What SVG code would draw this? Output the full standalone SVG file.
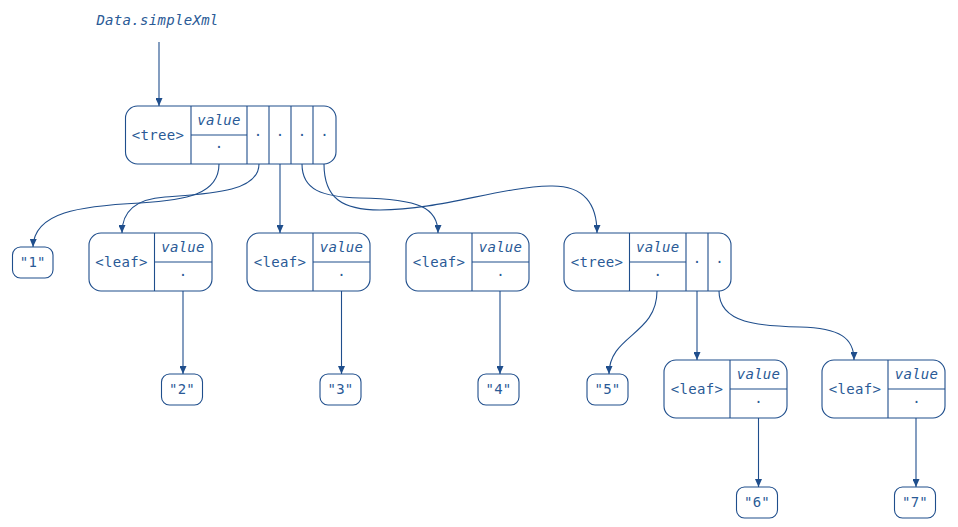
<svg xmlns="http://www.w3.org/2000/svg" width="958" height="527" viewBox="0 0 958 527">
<defs>
<style>
.box{fill:#ffffff;stroke:#1f4e8c;stroke-width:1.1}
.ln{fill:none;stroke:#1f4e8c;stroke-width:1.1}
.e{fill:none;stroke:#1f4e8c;stroke-width:1.1;marker-end:url(#arr)}
text{font-family:"DejaVu Sans Mono","Liberation Mono",monospace;font-size:14px;fill:#2a5a96;text-anchor:middle;letter-spacing:0.3px}
.it{font-style:italic}
</style>
<marker id="arr" markerWidth="8" markerHeight="7" refX="8" refY="3.5" orient="auto" markerUnits="userSpaceOnUse"><path d="M0,0 L8,3.5 L0,7 z" fill="#1f4e8c"/></marker>
</defs>
<rect width="958" height="527" fill="#ffffff"/>

<g id="label-root">
<text class="it" x="157.5" y="25">Data.simpleXml</text>
</g>

<g id="tree1">
<rect class="box" x="125.5" y="106" width="210.5" height="58" rx="12"/>
<path class="ln" d="M191,106V164M247,106V164M269,106V164M291,106V164M313,106V164M191,135H247"/>
<text x="158" y="139.5">&lt;tree&gt;</text>
<text class="it" x="219" y="124.5">value</text>
<text x="219" y="148">.</text>
<text x="258" y="136">.</text>
<text x="280" y="136">.</text>
<text x="302" y="136">.</text>
<text x="324.5" y="136">.</text>
</g>

<g id="str1">
<rect class="box" x="12.5" y="247" width="40.5" height="31" rx="8"/>
<text x="32.75" y="266.5">"1"</text>
</g>

<g id="leaf1">
<rect class="box" x="89" y="233" width="123" height="58" rx="12"/>
<path class="ln" d="M154.5,233V291M154.5,262H212"/>
<text x="121.5" y="266.5">&lt;leaf&gt;</text>
<text class="it" x="183" y="251.5">value</text>
<text x="183" y="275.5">.</text>
</g>

<g id="leaf2">
<rect class="box" x="247" y="233" width="123" height="58" rx="12"/>
<path class="ln" d="M313,233V291M313,262H370"/>
<text x="280" y="266.5">&lt;leaf&gt;</text>
<text class="it" x="341.5" y="251.5">value</text>
<text x="341.5" y="275.5">.</text>
</g>

<g id="leaf3">
<rect class="box" x="406" y="233" width="123" height="58" rx="12"/>
<path class="ln" d="M472,233V291M472,262H529"/>
<text x="439" y="266.5">&lt;leaf&gt;</text>
<text class="it" x="500.5" y="251.5">value</text>
<text x="500.5" y="275.5">.</text>
</g>

<g id="tree2">
<rect class="box" x="564" y="233" width="167" height="58" rx="12"/>
<path class="ln" d="M629.5,233V291M686,233V291M708,233V291M629.5,262H686"/>
<text x="597" y="266.5">&lt;tree&gt;</text>
<text class="it" x="657.75" y="251.5">value</text>
<text x="657.75" y="275.5">.</text>
<text x="697" y="263">.</text>
<text x="719.5" y="263">.</text>
</g>

<g id="str2">
<rect class="box" x="161.5" y="374" width="41" height="31" rx="8"/>
<text x="182" y="393.5">"2"</text>
</g>
<g id="str3">
<rect class="box" x="320" y="374" width="41" height="31" rx="8"/>
<text x="340.5" y="393.5">"3"</text>
</g>
<g id="str4">
<rect class="box" x="478" y="374" width="41" height="31" rx="8"/>
<text x="498.5" y="393.5">"4"</text>
</g>
<g id="str5">
<rect class="box" x="587" y="374" width="41" height="31" rx="8"/>
<text x="607.5" y="393.5">"5"</text>
</g>

<g id="leaf4">
<rect class="box" x="664" y="360" width="123" height="58" rx="12"/>
<path class="ln" d="M730,360V418M730,389H787"/>
<text x="697" y="393.5">&lt;leaf&gt;</text>
<text class="it" x="758.5" y="378.5">value</text>
<text x="758.5" y="402.5">.</text>
</g>

<g id="leaf5">
<rect class="box" x="822" y="360" width="123" height="58" rx="12"/>
<path class="ln" d="M888,360V418M888,389H945"/>
<text x="855" y="393.5">&lt;leaf&gt;</text>
<text class="it" x="916.5" y="378.5">value</text>
<text x="916.5" y="402.5">.</text>
</g>

<g id="str6">
<rect class="box" x="736.5" y="487" width="41" height="31" rx="8"/>
<text x="757" y="506.5">"6"</text>
</g>
<g id="str7">
<rect class="box" x="894.5" y="487" width="41" height="31" rx="8"/>
<text x="915" y="506.5">"7"</text>
</g>

<g id="connectors">
<path class="e" d="M159,42V106"/>
<path class="e" d="M219,164 C219,195 185,200 140,203 C80,206 34,212 33,247"/>
<path class="e" d="M259,164 C259,193 205,194 165,197 C135,199 122,212 122,233"/>
<path class="e" d="M280,164V233"/>
<path class="e" d="M302,164 C302,190 322,197 360,198 C420,199 438,208 438,233"/>
<path class="e" d="M324,164 C324,198 342,210 380,210 C440,210 500,187 550,186 C585,185 597,205 597,233"/>
<path class="e" d="M183,291V374"/>
<path class="e" d="M341.5,291V374"/>
<path class="e" d="M500,291V374"/>
<path class="e" d="M657,291 C657,335 609,335 609,374"/>
<path class="e" d="M697,291V360"/>
<path class="e" d="M719,291 C719,324 760,326 800,327 C840,328 854,338 854,360"/>
<path class="e" d="M758.5,418V487"/>
<path class="e" d="M916,418V487"/>
</g>
</svg>
